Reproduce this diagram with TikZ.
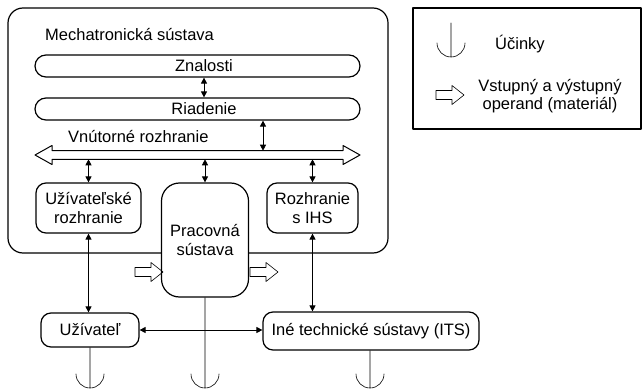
\documentclass[tikz,border=0pt]{standalone}
\usepackage{fontspec}
\setmainfont{Liberation Sans}
\usetikzlibrary{arrows.meta}
\tikzset{
  blok/.style={draw, line width=1.2pt, rounded corners=10pt, fill=white, align=center, inner sep=0pt},
  pill/.style={draw, line width=1.2pt, rounded corners=11pt, minimum width=325pt, minimum height=22pt, inner sep=0pt},
  spoj/.style={{Triangle[length=6pt,width=6pt]}-{Triangle[length=6pt,width=6pt]}, line width=0.8pt},
}
% hollow arrow for operand
\newcommand{\operand}[1]{\draw[line width=0.6pt] (#1) ++(0,4.5) -- ++(16,0) -- ++(0,5) -- ++(12,-9.5) -- ++(-12,-9.5) -- ++(0,5) -- ++(-16,0) -- cycle;}

\begin{document}
\begin{tikzpicture}[line cap=round,line join=round,x=1pt,y=-1pt,font=\fontsize{16.5}{18.5}\selectfont]
\useasboundingbox (0,0) rectangle (644,390);
\coordinate (dno) at (0,388);
\coordinate (bushore) at (197.5,150.7);
\coordinate (busdole) at (197.5,159.3);
% mechatronicka sustava
\node[draw, line width=1.2pt, rounded corners=15pt, minimum width=380pt, minimum height=245pt, inner sep=0pt] (mech) at (198,130.5) {};
\node[anchor=west, inner sep=0pt] (mechtext) at (45,35) {Mechatronická sústava};
\node[pill] (znalosti) at (197.5,66) {\hspace*{13pt}Znalosti};
\node[pill] (riadenie) at (197.5,109) {\hspace*{13pt}Riadenie};
\node[anchor=west, inner sep=0pt] (vnutorne) at (68,137) {Vnútorné rozhranie};
\draw[line width=1pt] (35,155) -- (52,145.5) -- (52,150.7) -- (343,150.7) -- (343,145.5) -- (360,155) -- (343,164.5) -- (343,159.3) -- (52,159.3) -- (52,164.5) -- cycle;
\node[blok, minimum width=105pt, minimum height=50pt] (ur) at (88.5,208) {Užívateľské\\rozhranie};
\node[blok, minimum width=91pt, minimum height=50pt] (ihs) at (312.5,208) {Rozhranie\\s IHS};
\node[blok, rounded corners=18pt, minimum width=87pt, minimum height=114pt] (prac) at (205,240) {Pracovná\\sústava};
\node[blok, minimum width=98pt, minimum height=34pt] (uzivatel) at (90,330) {Užívateľ};
\node[blok, minimum width=216pt, minimum height=38pt] (its) at (371,331) {Iné technické sústavy (ITS)};
% vazby
\draw[spoj] ([xshift=6.5pt]znalosti.south) -- ([xshift=6.5pt]riadenie.north);
\draw[spoj] ([xshift=65.5pt]riadenie.south) -- ([xshift=65.5pt]riadenie.south |- bushore);
\draw[spoj] (ur.north |- busdole) -- (ur.north);
\draw[spoj] (prac.north |- busdole) -- (prac.north);
\draw[spoj] (ihs.north |- busdole) -- (ihs.north);
\draw[spoj] (ur.south) -- (ur.south |- uzivatel.north);
\draw[spoj] (ihs.south) -- (ihs.south |- its.north);
\draw[spoj] (uzivatel.east) -- (uzivatel.east -| its.west);
% ucinky
\draw[line width=0.6pt] (uzivatel.south) -- (uzivatel.south |- dno) ++(-14pt,14pt) arc[start angle=180, end angle=360, radius=14pt];
\draw[line width=0.6pt] (prac.south) -- (prac.south |- dno) ++(-14pt,14pt) arc[start angle=180, end angle=360, radius=14pt];
\draw[line width=0.6pt] ([xshift=-1pt]its.south) -- ([xshift=-1pt]its.south |- dno) ++(-14pt,14pt) arc[start angle=180, end angle=360, radius=14pt];
% operandy
\operand{135,272}
\operand{250,272}
% legenda
\node[draw, line width=1.2pt, minimum width=228pt, minimum height=121pt, inner sep=0pt] (legenda) at (527,68.5) {};
\draw[line width=0.6pt] (451,23) -- (451,57) ++(-14pt,14pt) arc[start angle=180, end angle=360, radius=14pt];
\node[anchor=west, inner sep=0pt] (ucinky) at (495,44) {Účinky};
\operand{436,95}
\node[align=center, inner sep=0pt] (operandtext) at (550,96) {Vstupný a výstupný\\operand (materiál)};
\end{tikzpicture}
\end{document}
